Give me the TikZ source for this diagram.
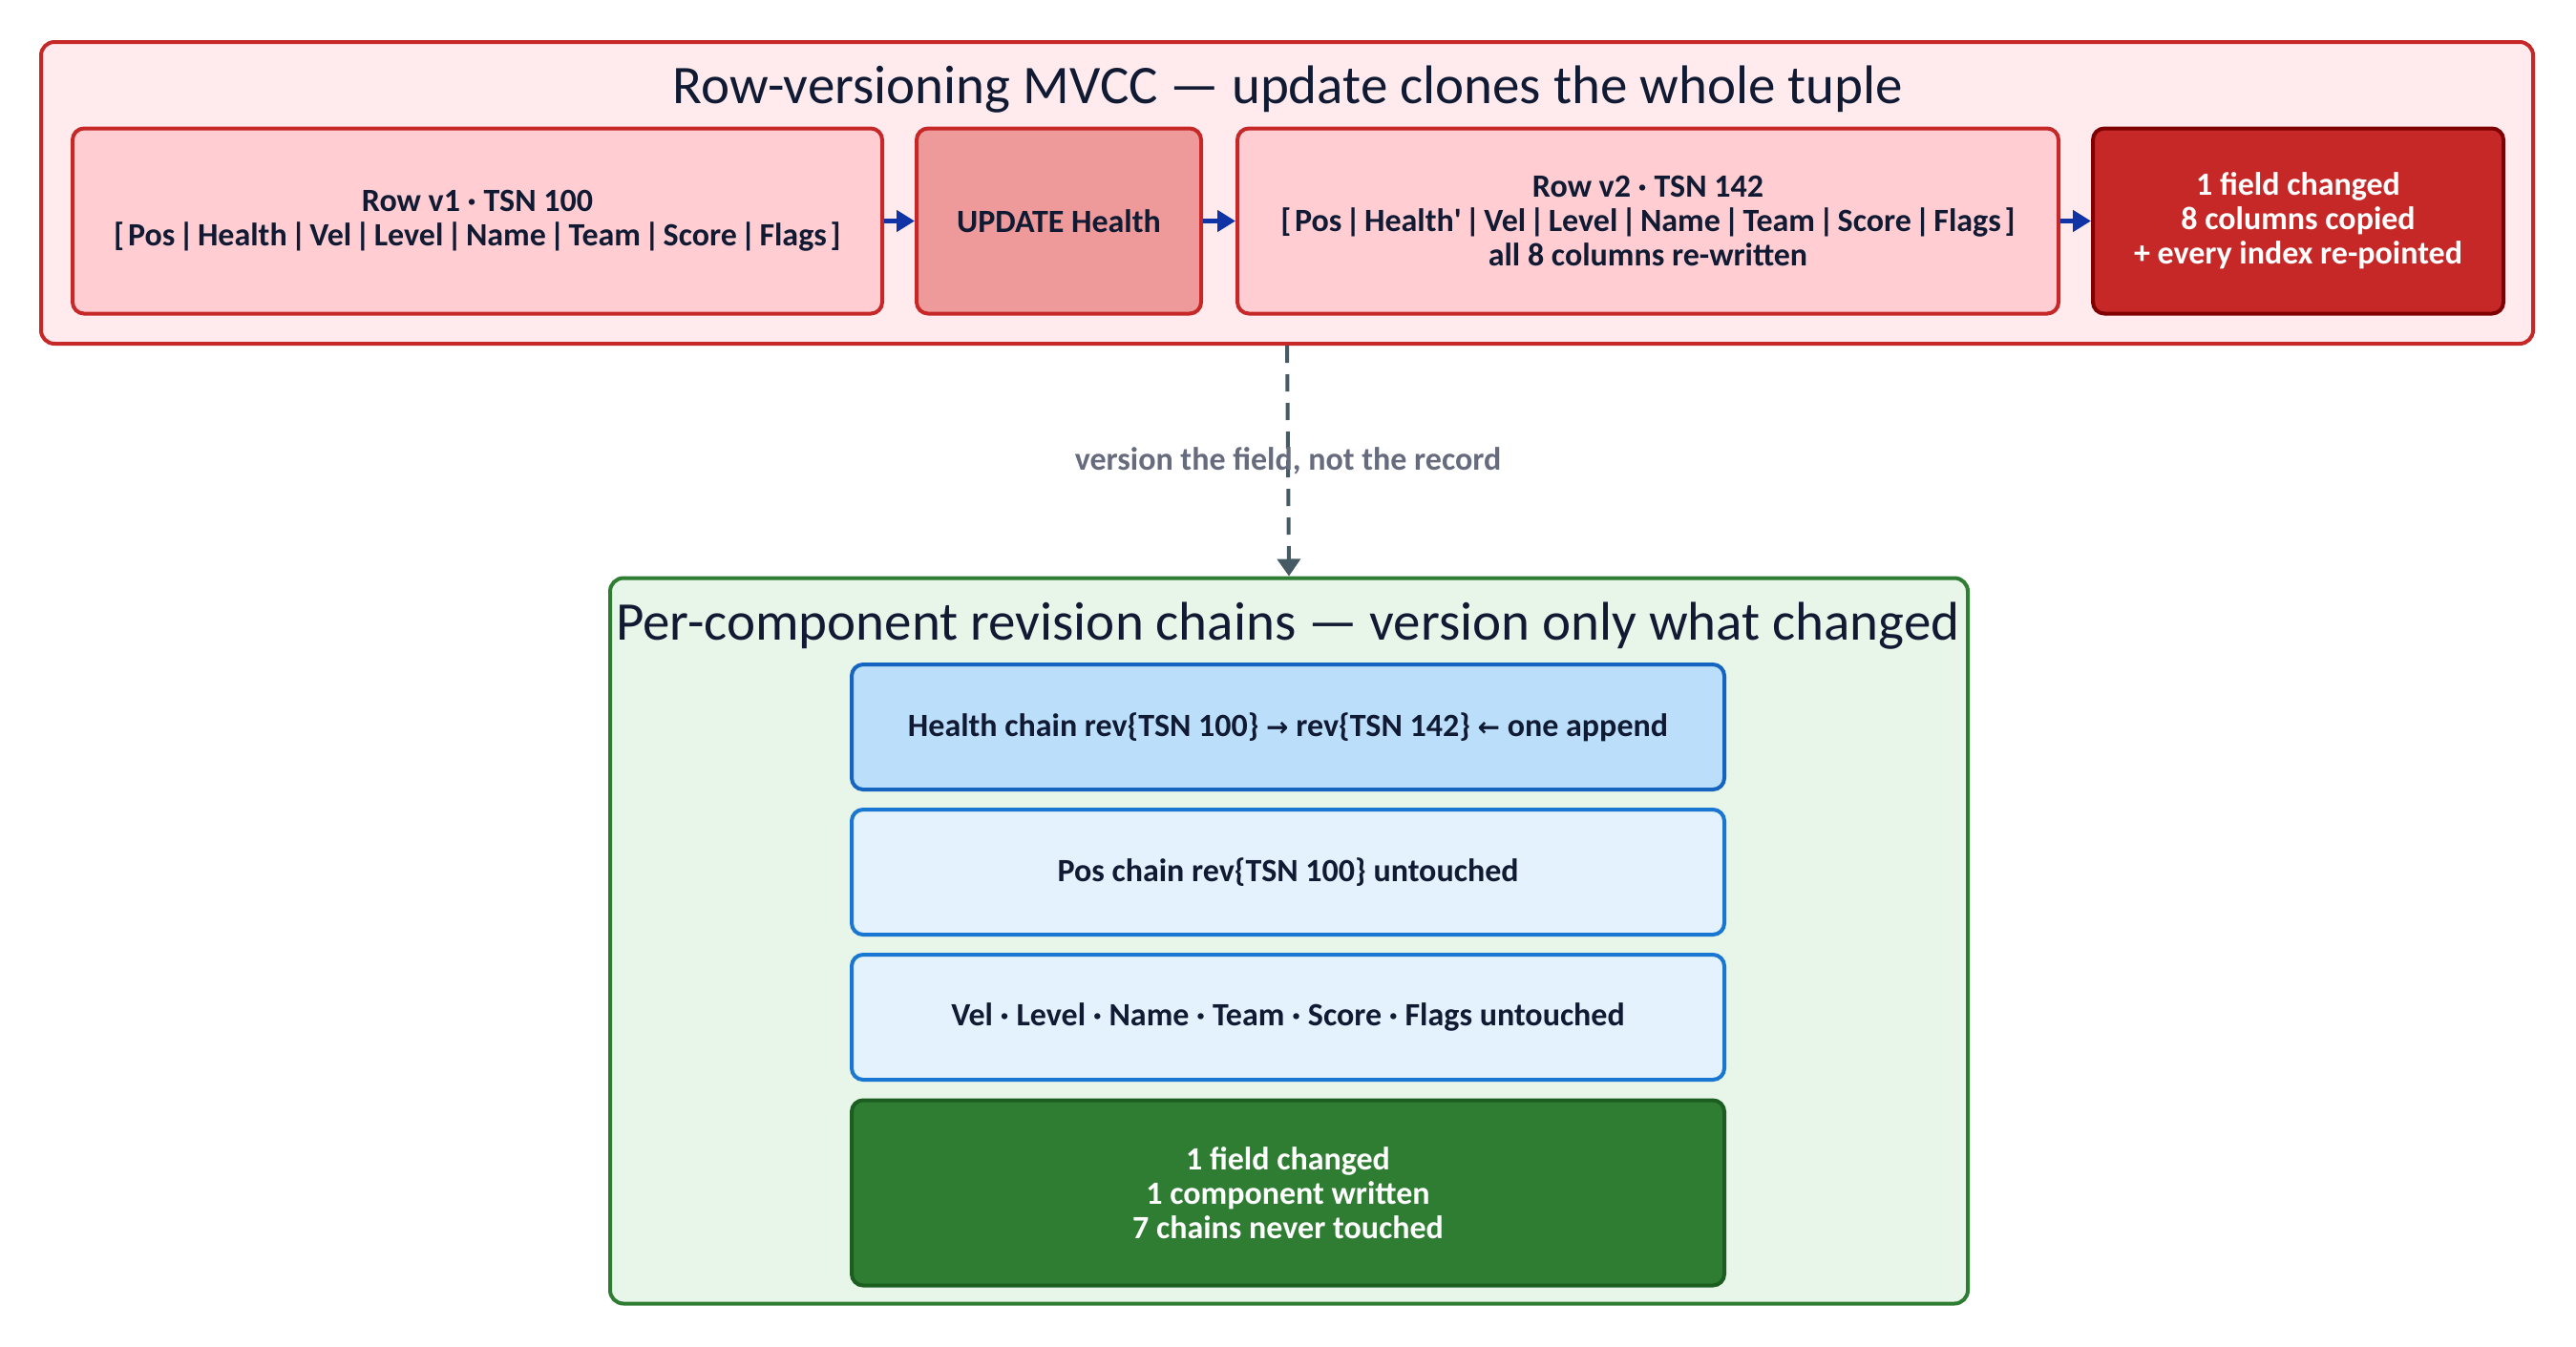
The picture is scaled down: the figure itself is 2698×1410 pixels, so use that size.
\documentclass[tikz,border=0pt]{standalone}
\usepackage{fontspec}
\setmainfont{Carlito}
\newfontfamily\arrowfont{DejaVu Sans}
\usetikzlibrary{positioning,arrows.meta}

\definecolor{inktext}{HTML}{111A33}
\definecolor{rowline}{HTML}{C62828}
\definecolor{rowpanel}{HTML}{FFEBEE}
\definecolor{rowcellfill}{HTML}{FFCDD2}
\definecolor{updatefill}{HTML}{EF9A9A}
\definecolor{costline}{HTML}{7F0000}
\definecolor{chainline}{HTML}{2E7D32}
\definecolor{chainpanel}{HTML}{E8F5E9}
\definecolor{hotline}{HTML}{1565C0}
\definecolor{hotfill}{HTML}{BBDEFB}
\definecolor{coldline}{HTML}{1976D2}
\definecolor{coldfill}{HTML}{E3F2FD}
\definecolor{winline}{HTML}{1B5E20}
\definecolor{flowblue}{HTML}{1034A6}
\definecolor{bridgeline}{HTML}{455A64}
\definecolor{bridgetext}{HTML}{666B7D}

\newcommand{\boxfont}{\fontsize{17}{18}\selectfont\bfseries}
\newcommand{\tightcols}[1]{{\spaceskip=0.11em plus 0.03em minus 0.02em\relax #1}}

\begin{document}
\begin{tikzpicture}[x=0.5pt,y=-0.5pt,
    panel/.style={
% The shape:
rectangle, rounded corners=7pt,
% The border:
line width=2pt, draw,
},
    cell/.style={
% The shape:
rectangle, rounded corners=6pt,
% The size:
minimum height=97pt,
% The border:
line width=2pt, draw=rowline, fill=rowcellfill,
% The text:
text=inktext, align=center, font=\boxfont,
},
    chain/.style={
% The shape:
rectangle, rounded corners=6pt,
% The size:
minimum width=457pt, minimum height=65.5pt,
% The border:
line width=2pt, draw=coldline, fill=coldfill,
% The text:
text=inktext, align=center, font=\boxfont,
},
    heading/.style={
text=inktext, anchor=base, font=\fontsize{28.5}{32}\selectfont,
},
    flow/.style={
-{Triangle[length=9.5pt,width=11pt]}, line width=2.4pt, draw=flowblue,
},
]
  \useasboundingbox (0,0) rectangle (2698,1410);

  % row-versioning side
  \node[panel, draw=rowline, fill=rowpanel, minimum width=1305pt, minimum height=158pt] (rowpanel) at (1348, 202) {};
  \node[heading] (rowtitle) at (1349, 108) {Row-versioning MVCC — update clones the whole tuple};
  \node[cell, minimum width=424pt] (v1) at (500, 231.5) {Row v1 · TSN 100\\\tightcols{[ Pos | Health | Vel | Level | Name | Team | Score | Flags ]}};
  \node[cell, minimum width=149pt, fill=updatefill] (upd) at (1109, 231.5) {UPDATE Health};
  \node[cell, minimum width=430pt] (v2) at (1726, 231.5) {Row v2 · TSN 142\\\tightcols{[ Pos | Health\textquotesingle{} | Vel | Level | Name | Team | Score | Flags ]}\\all 8 columns re-written};
  \node[cell, minimum width=215pt, fill=rowline, draw=costline, text=white] (rowcost) at (2407, 231.5) {1 field changed\\8 columns copied\\+ every index re-pointed};
  \draw[flow] (v1) -- (upd);
  \draw[flow] (upd) -- (v2);
  \draw[flow] (v2) -- (rowcost);

  % per-component side
  \node[panel, draw=chainline, fill=chainpanel, minimum width=711pt, minimum height=380pt] (chainpanel) at (1350, 985.5) {};
  \node[heading] (chaintitle) at (1349, 670) {Per-component revision chains — version only what changed};
  \node[chain, draw=hotline, fill=hotfill] (health) at (1349, 761.5) {Health chain rev\{TSN 100\} {\arrowfont\fontsize{14}{18}\selectfont →} rev\{TSN 142\} {\arrowfont\fontsize{14}{18}\selectfont ←} one append};
  \node[chain] (pos) at (1349, 913.5) {Pos chain rev\{TSN 100\} untouched};
  \node[chain] (rest) at (1349, 1065.5) {Vel · Level · Name · Team · Score · Flags untouched};
  \node[chain, minimum height=97pt, draw=winline, fill=chainline, text=white] (chaincost) at (1349, 1249.5) {1 field changed\\1 component written\\7 chains never touched};

  \draw[bridgeline, line width=2pt, dash pattern=on 9pt off 6pt, -{Triangle[length=9pt,width=12pt]}]
    (rowpanel.south) -- node[text=bridgetext, font=\boxfont] (bridge) {version the field, not the record} (chainpanel.north);

\end{tikzpicture}
\end{document}
